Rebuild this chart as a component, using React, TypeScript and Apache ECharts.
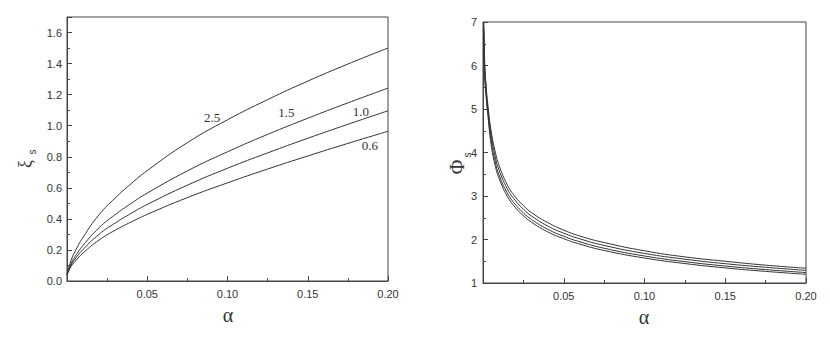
import React, { useEffect, useRef } from "react";
import * as echarts from "echarts";

// Left panel: xi_s vs alpha, four curves
const ALPHA_L = [0, 0.0025, 0.005, 0.01, 0.02, 0.03, 0.04, 0.05, 0.075, 0.1, 0.125, 0.15, 0.175, 0.2];
const XI_25 = [0.04, 0.131, 0.189, 0.281, 0.427, 0.534, 0.627, 0.711, 0.891, 1.038, 1.168, 1.287, 1.397, 1.5];
const XI_15 = [0.04, 0.111, 0.157, 0.229, 0.343, 0.427, 0.5, 0.566, 0.709, 0.832, 0.944, 1.048, 1.147, 1.242];
const XI_10 = [0.04, 0.101, 0.141, 0.203, 0.301, 0.373, 0.436, 0.493, 0.617, 0.726, 0.825, 0.919, 1.009, 1.096];
const XI_06 = [0.04, 0.093, 0.126, 0.18, 0.264, 0.327, 0.38, 0.429, 0.537, 0.632, 0.721, 0.805, 0.886, 0.964];
const CURVE_NAMES = ["2.5", "1.5", "1.0", "0.6"];
const CURVE_LABEL_AT = [
  [0.0904, 1.056],
  [0.1367, 1.082],
  [0.1831, 1.093],
  [0.1887, 0.87],
];

// Right panel: Phi_s vs alpha, four curves
const ALPHA_R = [0.0005, 0.001, 0.002, 0.003, 0.005, 0.0075, 0.01, 0.015, 0.02, 0.025, 0.03, 0.04, 0.05, 0.06, 0.075, 0.1, 0.125, 0.15, 0.175, 0.2];
const PHI_A = [7.0, 6.1, 5.5, 5.1, 4.5, 4.03, 3.7, 3.26, 2.98, 2.78, 2.62, 2.39, 2.215, 2.08, 1.93, 1.74, 1.6, 1.5, 1.41, 1.34];
const PHI_B = [6.9, 6.0, 5.42, 5.0, 4.42, 3.915, 3.59, 3.17, 2.896, 2.697, 2.542, 2.312, 2.145, 2.015, 1.864, 1.68, 1.547, 1.444, 1.361, 1.29];
const PHI_C = [6.8, 5.9, 5.33, 4.93, 4.29, 3.8, 3.48, 3.074, 2.806, 2.613, 2.461, 2.237, 2.074, 1.947, 1.799, 1.621, 1.491, 1.39, 1.308, 1.24];
const PHI_D = [6.7, 5.8, 5.25, 4.87, 4.19, 3.71, 3.4, 2.997, 2.736, 2.546, 2.398, 2.177, 2.018, 1.893, 1.748, 1.574, 1.447, 1.347, 1.267, 1.2];

const X_TICKS = [0.05, 0.1, 0.15, 0.2];

const INK = "#333";
const AXIS = "#444";
const SANS = "'Liberation Sans', Arial, sans-serif";
const SERIF = "'Liberation Serif', 'Times New Roman', serif";

function pairs(xs: number[], ys: number[]) {
  return xs.map((x, i) => [x, ys[i]]);
}

function xAxisCfg(gridIndex: number) {
  return {
    type: "value",
    gridIndex,
    min: 0,
    max: 0.2,
    interval: 0.05,
    axisLine: { show: true, lineStyle: { color: AXIS, width: 1 } },
    axisTick: { show: true, inside: true, length: 5, lineStyle: { color: AXIS } },
    minorTick: { show: true, splitNumber: 2, length: 3, lineStyle: { color: AXIS } },
    splitLine: { show: false },
    axisLabel: {
      color: INK,
      fontFamily: SANS,
      fontSize: 11,
      margin: 7,
      formatter: (v: number) => (X_TICKS.some((t) => Math.abs(t - v) < 1e-9) ? v.toFixed(2) : ""),
    },
  };
}

export default function App() {
  const ref = useRef<HTMLDivElement>(null);
  useEffect(() => {
    if (!ref.current) return;
    const chart = echarts.init(ref.current, null, { renderer: "svg" });
    const lineStyle = { color: INK, width: 1 };
    const leftSets = [XI_25, XI_15, XI_10, XI_06];
    const rightSets = [PHI_A, PHI_B, PHI_C, PHI_D];
    const series: any[] = [];
    leftSets.forEach((ys) => {
      series.push({
        type: "line",
        xAxisIndex: 0,
        yAxisIndex: 0,
        data: pairs(ALPHA_L, ys),
        showSymbol: false,
        smooth: 0.5,
        lineStyle,
        silent: true,
      });
    });
    rightSets.forEach((ys) => {
      series.push({
        type: "line",
        xAxisIndex: 1,
        yAxisIndex: 1,
        data: pairs(ALPHA_R, ys),
        showSymbol: false,
        smooth: 0.5,
        lineStyle,
        silent: true,
      });
    });
    const baseGraphic: any[] = [
      { type: "text", x: 228, y: 315, style: { text: "α", font: `20px ${SERIF}`, fill: INK, align: "center", verticalAlign: "middle" } },
      { type: "text", x: 644, y: 317, style: { text: "α", font: `20px ${SERIF}`, fill: INK, align: "center", verticalAlign: "middle" } },
      { type: "text", x: 25, y: 164, rotation: Math.PI / 2, style: { text: "ξ", font: `18px ${SERIF}`, fill: INK, align: "center", verticalAlign: "middle" } },
      { type: "text", x: 32, y: 152, rotation: Math.PI / 2, style: { text: "s", font: `10px ${SANS}`, fill: INK, align: "center", verticalAlign: "middle" } },
      { type: "text", x: 457, y: 167, rotation: Math.PI / 2, style: { text: "Φ", font: `20px ${SERIF}`, fill: INK, align: "center", verticalAlign: "middle" } },
      { type: "text", x: 467, y: 155, rotation: Math.PI / 2, style: { text: "s", font: `10px ${SANS}`, fill: INK, align: "center", verticalAlign: "middle" } },
    ];
    chart.setOption({
      animation: false,
      backgroundColor: "#fff",
      grid: [
        { left: 67, top: 17, width: 321, height: 264, show: true, borderColor: AXIS, borderWidth: 1 },
        { left: 483, top: 22, width: 323, height: 261, show: true, borderColor: AXIS, borderWidth: 1 },
      ],
      xAxis: [xAxisCfg(0), xAxisCfg(1)],
      yAxis: [
        {
          type: "value",
          gridIndex: 0,
          min: 0,
          max: 1.7,
          interval: 0.2,
          axisLine: { show: true, lineStyle: { color: AXIS, width: 1 } },
          axisTick: { show: true, inside: true, length: 5, lineStyle: { color: AXIS } },
          minorTick: { show: true, splitNumber: 2, length: 3, lineStyle: { color: AXIS } },
          splitLine: { show: false },
          axisLabel: {
            color: INK,
            fontFamily: SANS,
            fontSize: 11,
            margin: 5,
            formatter: (v: number) => (v > 1.65 ? "" : v.toFixed(1)),
          },
        },
        {
          type: "value",
          gridIndex: 1,
          min: 1,
          max: 7,
          interval: 1,
          axisLine: { show: true, lineStyle: { color: AXIS, width: 1 } },
          axisTick: { show: true, inside: true, length: 5, lineStyle: { color: AXIS } },
          minorTick: { show: true, splitNumber: 2, length: 3, lineStyle: { color: AXIS } },
          splitLine: { show: false },
          axisLabel: { color: INK, fontFamily: SANS, fontSize: 11, margin: 6 },
        },
      ],
      graphic: baseGraphic,
      series,
    });
    const labels = CURVE_NAMES.map((name, i) => {
      const p = chart.convertToPixel({ gridIndex: 0 }, CURVE_LABEL_AT[i]) as number[];
      return {
        type: "text",
        x: p[0],
        y: p[1],
        style: { text: name, font: `13px ${SERIF}`, fill: INK, align: "center", verticalAlign: "middle" },
      };
    });
    chart.setOption({ graphic: baseGraphic.concat(labels) });
    return () => chart.dispose();
  }, []);
  return <div ref={ref} style={{ position: "fixed", left: 0, top: 0, width: 830, height: 340 }} />;
}
